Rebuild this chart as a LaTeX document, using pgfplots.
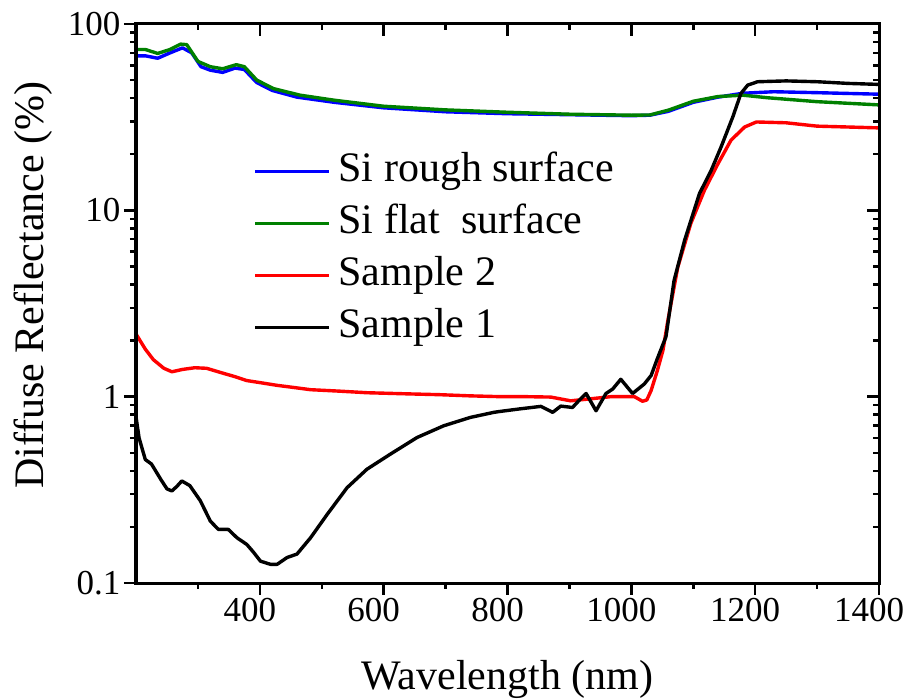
\documentclass[border=0pt]{standalone}
\usepackage{pgfplots}
\pgfplotsset{compat=1.18}
\usepackage{fontspec}
\setmainfont{Liberation Serif}
\definecolor{cblue}{RGB}{0,0,255}
\definecolor{cgreen}{RGB}{0,128,0}
\definecolor{cred}{RGB}{255,0,0}
\pgfplotsset{
 myaxis/.style={
  scale only axis, width=743bp, height=559bp,
  xmin=200, xmax=1400, ymin=0.1, ymax=100,
  xtick={400,600,800,1000,1200,1400}, minor xtick={300,500,700,900,1100,1300},
  ytick={0.1,1,10,100},
  minor ytick={0.2,0.3,0.4,0.5,0.6,0.7,0.8,0.9,2,3,4,5,6,7,8,9,20,30,40,50,60,70,80,90},
  axis line style={line width=3bp},
  major tick length=12bp, minor tick length=6bp,
  every tick/.style={line width=2.5bp, black},
 }
}

\begin{document}
\begin{tikzpicture}
\begin{axis}[ymode=log, myaxis,
  tick align=outside, xtick pos=bottom, ytick pos=left,
  xticklabels={400,600,800,1000,1200,1400},
  yticklabels={0.1,1,10,100},
  /pgf/number format/assume math mode=true,
  ticklabel style={font=\fontsize{35bp}{40bp}\selectfont},
  xticklabel style={xshift=-10bp},
  xlabel={Wavelength (nm)}, ylabel={Diffuse Reflectance (\%)},
  label style={font=\fontsize{42bp}{48bp}\selectfont},
  xlabel style={at={(axis description cs:0.5,0)}, anchor=base, yshift=-106bp},
  ylabel style={at={(axis description cs:-0.139,0.533)}, anchor=center},
  legend cell align=left,
  legend style={draw=none, fill=none, at={(axis description cs:0.158,0.774)}, anchor=north west,
    font=\fontsize{42bp}{48bp}\selectfont, inner sep=0pt, row sep=10bp, column sep=7bp,
    nodes={text height=30bp, text depth=10bp, inner sep=1bp}},
  legend image code/.code={\draw[#1, line width=3bp] (0bp,0bp) -- (74bp,0bp);},
  every axis plot/.append style={line width=3.4bp, line join=round},
]
\addplot[cblue] coordinates {
(200,67.5) (215,67.5) (235,65.5) (255,70) (275,74.5) (290,70) (305,59) (320,56.5) (340,55)
(360,58) (375,57) (395,48.5) (420,44) (460,40.5) (520,38) (600,35.5) (700,33.8) (800,33)
(900,32.6) (1000,32.2) (1030,32.4) (1060,34) (1100,38) (1140,40.5) (1180,42.5) (1230,43.3)
(1300,42.8) (1400,42)
};
\addlegendentry{Si rough surface}
\addplot[cgreen] coordinates {
(200,73) (215,73) (235,69.5) (255,73) (272,78) (282,77.5) (300,63) (320,59) (340,57.5)
(362,60.5) (375,59) (395,50) (422,45) (465,41.5) (520,39) (600,36.2) (700,34.6) (800,33.6)
(900,32.8) (1000,32.4) (1030,32.5) (1060,34.5) (1100,38.5) (1140,40.8) (1180,41.5) (1220,40.2)
(1300,38.3) (1400,36.8)
};
\addlegendentry{Si flat\ \ surface}
\addplot[cred] coordinates {
(200,2.17) (215,1.8) (228,1.58) (245,1.42) (258,1.36) (275,1.40) (295,1.43) (314,1.42)
(336,1.35) (360,1.28) (379,1.22) (400,1.19) (428,1.15) (455,1.12) (482,1.09) (530,1.07)
(573,1.05) (640,1.035) (690,1.025) (740,1.01) (789,1.0) (830,1.0) (870,0.995) (902,0.95)
(929,0.97) (967,1.0) (1005,1.0) (1018,0.945) (1025,0.96) (1032,1.08) (1042,1.38) (1051,1.77)
(1059,2.56) (1075,4.95) (1096,8.5) (1118,12.8) (1140,17.8) (1161,23.8) (1183,28) (1202,29.8)
(1250,29.5) (1300,28.3) (1350,28) (1400,27.7)
};
\addlegendentry{Sample 2}
\addplot[black] coordinates {
(200,0.78) (205,0.60) (215,0.46) (225,0.435) (240,0.36) (250,0.32) (258,0.312) (266,0.33)
(274,0.353) (287,0.333) (304,0.276) (320,0.215) (333,0.194) (349,0.194) (363,0.175)
(379,0.161) (390,0.146) (401,0.131) (417,0.126) (428,0.126) (444,0.137) (460,0.143)
(482,0.175) (509,0.234) (541,0.325) (573,0.408) (611,0.492) (654,0.604) (697,0.698)
(740,0.774) (778,0.824) (789,0.834) (820,0.86) (854,0.887) (873,0.824) (886,0.89) (905,0.875)
(915,0.95) (927,1.04) (943,0.84) (959,1.04) (970,1.1) (983,1.24) (1002,1.04) (1021,1.17)
(1032,1.3) (1042,1.6) (1056,2.1) (1069,4.2) (1086,6.9) (1110,12.3) (1129,16.4) (1145,21.9)
(1164,31.8) (1177,42.4) (1188,47) (1204,49) (1250,49.5) (1300,49) (1350,48) (1400,47.4)
};
\addlegendentry{Sample 1}
\end{axis}
\begin{axis}[ymode=log, myaxis, tick align=inside,
  xtick pos=top, ytick pos=right, xticklabels={}, yticklabels={}]
\end{axis}
\pgfresetboundingbox
\path[use as bounding box] ([xshift=-136bp,yshift=-116bp]current axis.south west) rectangle ([xshift=31bp,yshift=24bp]current axis.north east);
\end{tikzpicture}
\end{document}
